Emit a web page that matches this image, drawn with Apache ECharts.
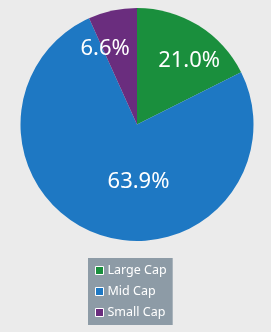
<!DOCTYPE html>
<html>
<head>
<meta charset="utf-8">
<script src="https://cdn.jsdelivr.net/npm/echarts@6/dist/echarts.min.js"></script>
<style>
  html, body { margin: 0; padding: 0; background: #ebebeb; }
  #chart { width: 271px; height: 332px; }
</style>
</head>
<body>
<div id="chart"></div>
<script>
// categories and printed percentages
const categories = ['Large Cap', 'Mid Cap', 'Small Cap'];
const labelPct = ['21.0%', '63.9%', '6.6%'];
// slice sizes as drawn in the picture (they do not add up like the labels do)
const sliceShare = [17.6, 75.65, 6.75];
const colors = ['#1a8f3d', '#1e78c3', '#6a2d7e'];
// nudges for the labels, the original places them off the mid angle
const labelNudge = [[20, -12], [22, 0], [-19, -16]];

let chart = echarts.init(document.getElementById('chart'));
let option = {
  backgroundColor: '#ebebeb',
  animation: false,
  legend: {
    orient: 'vertical',
    left: 88,
    top: 258,
    backgroundColor: '#8d9ba6',
    padding: [6, 6, 6, 7],
    itemWidth: 8,
    itemHeight: 8,
    itemGap: 8,
    icon: 'rect',
    itemStyle: { borderColor: '#ffffff', borderWidth: 1 },
    textStyle: { color: '#ffffff', fontSize: 12.5, fontFamily: 'Noto Sans', padding: [0, 0, 0, -1] },
    data: categories
  },
  series: [
    {
      type: 'pie',
      center: [137, 124.5],
      radius: 116.5,
      startAngle: 90,
      clockwise: true,
      label: {
        show: true,
        position: 'inside',
        color: '#ffffff',
        fontSize: 22,
        fontFamily: 'Noto Sans',
        formatter: p => labelPct[p.dataIndex]
      },
      labelLine: { show: false },
      labelLayout: p => ({ dx: labelNudge[p.dataIndex][0], dy: labelNudge[p.dataIndex][1] }),
      emphasis: { disabled: true },
      data: categories.map((c, i) => ({
        name: c,
        value: sliceShare[i],
        itemStyle: { color: colors[i] }
      }))
    }
  ]
};
chart.setOption(option);
</script>
</body>
</html>
